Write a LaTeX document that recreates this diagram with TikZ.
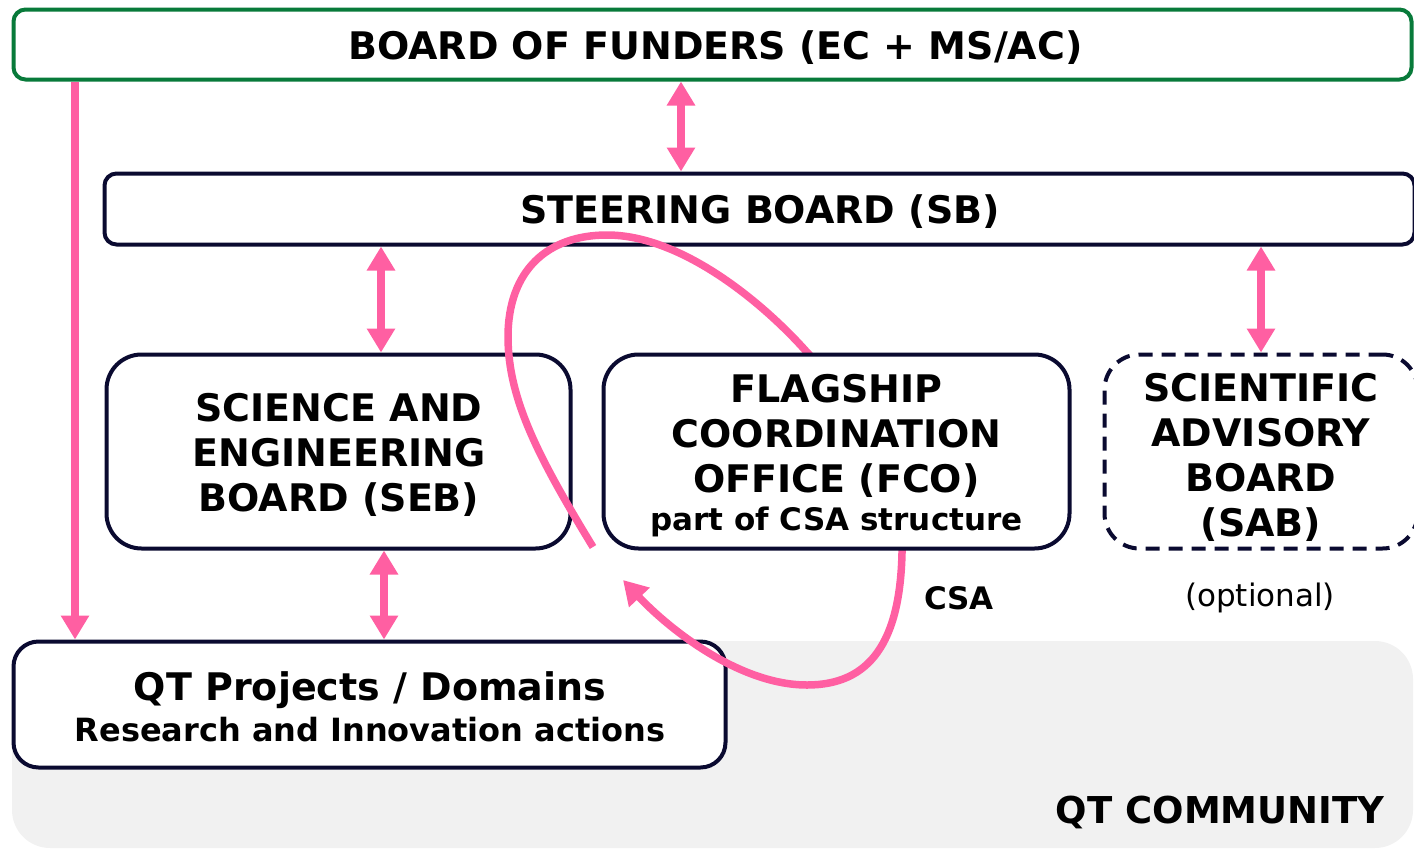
\documentclass[tikz,border=0pt]{standalone}
\usepackage{fontspec}
\setmainfont{DejaVu Sans}
\usetikzlibrary{arrows.meta}
\definecolor{pinkc}{HTML}{FF5FA2}
\definecolor{navyc}{HTML}{0A0A30}
\definecolor{greenc}{HTML}{087A3A}
\definecolor{grayc}{HTML}{F1F1F1}
\begin{document}
\begin{tikzpicture}[x=1pt,y=-1pt,
  box/.style={draw=navyc, line width=4pt, fill=white, inner sep=0pt},
  big/.style={align=center, font=\bfseries\fontsize{38}{45}\selectfont},
  arr/.style={draw=pinkc, line width=8pt, -{Triangle[width=27pt,length=24pt]}},
  dbl/.style={draw=pinkc, line width=8pt, {Triangle[width=27pt,length=24pt]}-{Triangle[width=27pt,length=24pt]}},
  loopline/.style={draw=pinkc, line width=7.5pt}]
\useasboundingbox (0,0) rectangle (1414,849);
% community background
\fill[grayc, rounded corners=38pt] (12,641) rectangle (1413,848);
% boxes
\node[box, draw=greenc, rounded corners=12pt, minimum width=1398pt, minimum height=70pt] (bof) at (712.5,44.5) {};
\node[box, rounded corners=12pt, minimum width=1310pt, minimum height=71pt] (sb) at (759.5,209) {};
\node[box, rounded corners=35pt, minimum width=464pt, minimum height=194pt] (seb) at (338.5,451.5) {};
\node[box, dashed, dash pattern=on 14pt off 9pt, rounded corners=35pt, minimum width=313pt, minimum height=194pt] (sab) at (1261,451.5) {};
\node[box, rounded corners=25pt, minimum width=712pt, minimum height=126pt] (qt) at (369.5,704.5) {};
% loop (behind FCO)
\coordinate (ls) at (593,547);
\coordinate (le) at (623,580);
\draw[loopline, -{Triangle[width=27pt,length=24pt]}] (ls)
  .. controls (540,460) and (508,400) .. (508,337)
  .. controls (508,270) and (548,235) .. (607,235)
  .. controls (680,235) and (760,300) .. (805,350)
  .. controls (880,430) and (905,500) .. (902,553)
  .. controls (900,642) and (870,685) .. (807,685)
  .. controls (740,685) and (670,630) .. (le);
\node[box, rounded corners=35pt, minimum width=466pt, minimum height=194pt] (fco) at (836.5,451.5) {};
% texts
\node[big] (boft) at (715.5,47.5) {BOARD OF FUNDERS (EC + MS/AC)};
\node[big] (sbt) at (760,212) {STEERING BOARD (SB)};
\node[big] (sebt) at (339,455) {SCIENCE AND\\ENGINEERING\\BOARD (SEB)};
\node[big] (sabt) at (1261,457) {SCIENTIFIC\\ADVISORY\\BOARD\\(SAB)};
\node[big] (fcot) at (836.5,436) {FLAGSHIP\\COORDINATION\\OFFICE (FCO)};
\node[font=\bfseries\fontsize{31}{36}\selectfont] (fcop) at (836.5,522) {part of CSA structure};
\node[font=\bfseries\fontsize{38}{45}\selectfont] (qt1) at (370,690) {QT Projects / Domains};
\node[font=\bfseries\fontsize{32}{36}\selectfont] (qt2) at (370,730) {Research and Innovation actions};
\node[font=\bfseries\fontsize{31}{36}\selectfont] (csa) at (959,598) {CSA};
\node[font=\fontsize{31}{36}\selectfont] (opt) at (1260,598) {(optional)};
\node[font=\bfseries\fontsize{37}{45}\selectfont, anchor=east] (comm) at (1388,812) {QT COMMUNITY};
% arrows
\coordinate (xl) at (75,0);
\coordinate (x1) at (681,0);
\coordinate (x2) at (381,0);
\coordinate (x3) at (1261,0);
\coordinate (x4) at (384,0);
\draw[arr] (bof.south -| xl) -- (qt.north -| xl);
\draw[dbl] (bof.south -| x1) -- (sb.north -| x1);
\draw[dbl] (sb.south -| x2) -- (seb.north -| x2);
\draw[dbl] (sb.south -| x3) -- (sab.north -| x3);
\draw[dbl] (seb.south -| x4) -- (qt.north -| x4);
\end{tikzpicture}
\end{document}
